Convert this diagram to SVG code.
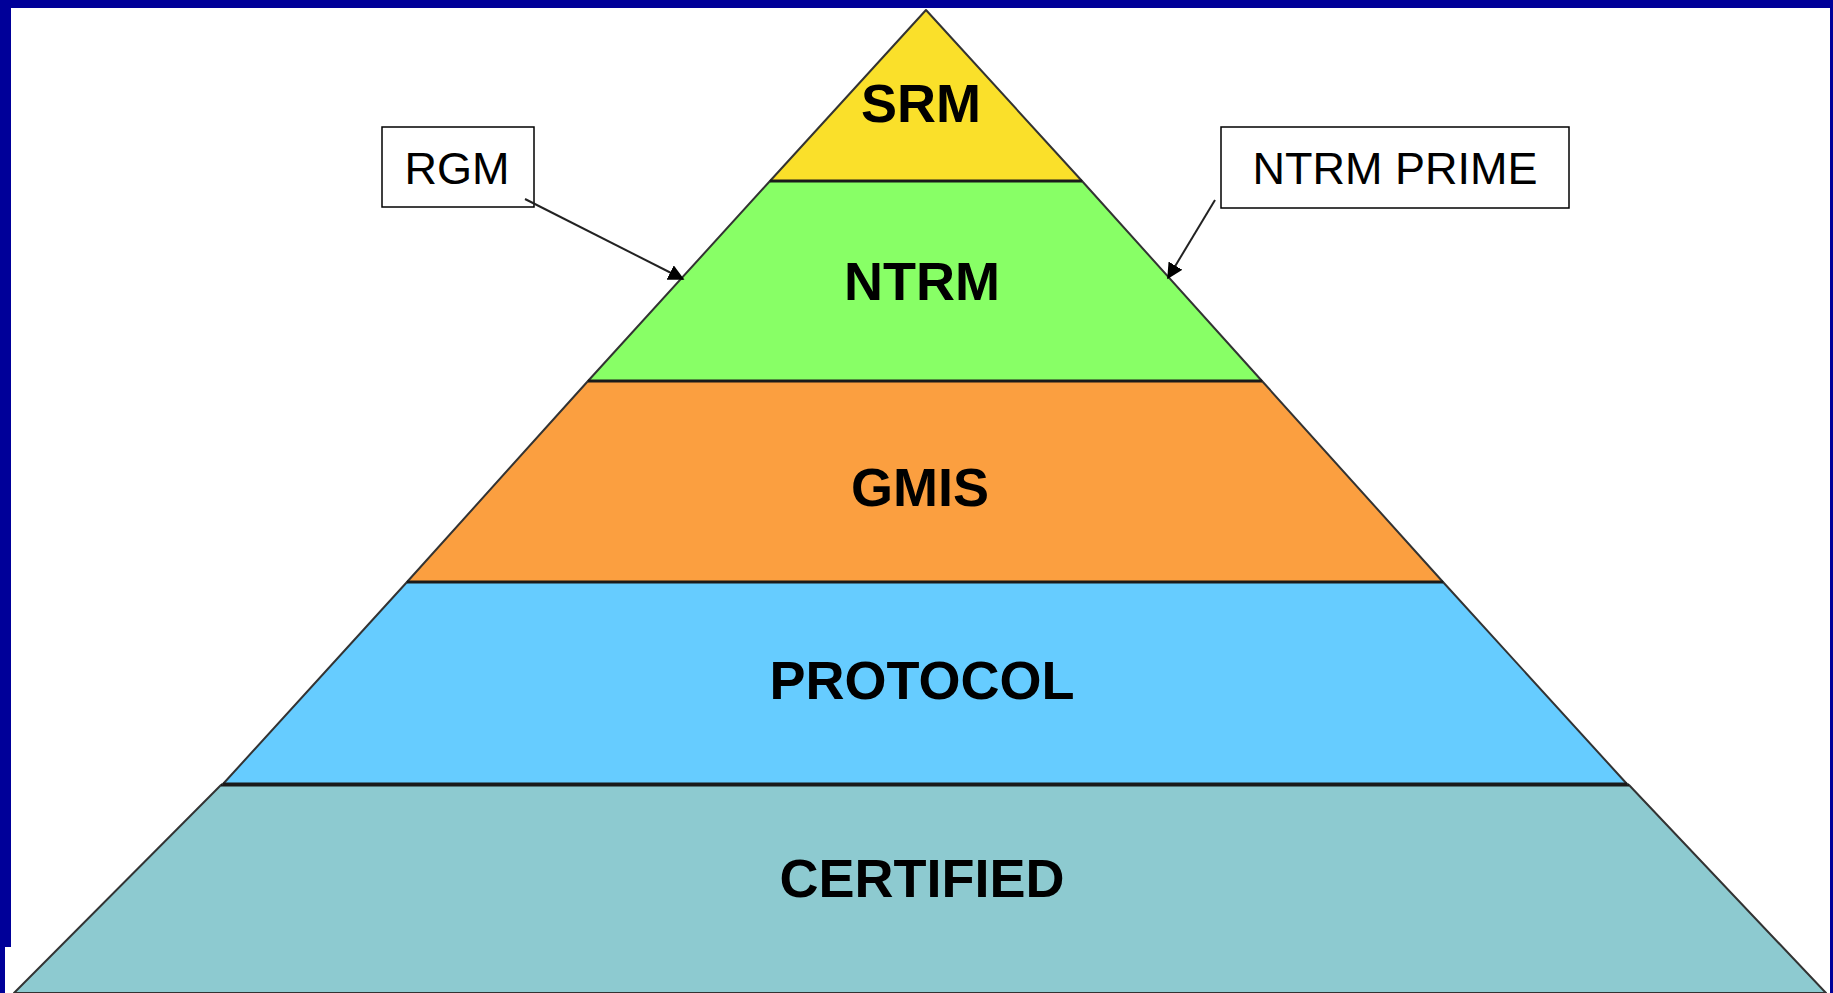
<svg xmlns="http://www.w3.org/2000/svg" width="1833" height="993" viewBox="0 0 1833 993">
  <style>
    .band { stroke: #333333; stroke-width: 2; stroke-linejoin: round; }
    .base { stroke: #1a1a1a; stroke-width: 3; }
    .tier { font-family: "Liberation Sans", Arial, sans-serif; font-weight: bold; font-size: 54px; fill: #000000; text-anchor: middle; }
    .callout { fill: #ffffff; stroke: #000000; stroke-width: 1.5; }
    .callout-text { font-family: "Liberation Sans", Arial, sans-serif; font-size: 45px; fill: #000000; text-anchor: middle; }
    .leader { stroke: #222222; stroke-width: 2; fill: none; marker-end: url(#arrow); }
  </style>
  <defs>
    <marker id="arrow" viewBox="0 0 10 10" refX="9" refY="5" markerWidth="8" markerHeight="8" orient="auto" markerUnits="strokeWidth">
      <path d="M0,0 L10,5 L0,10 z" fill="#000000"/>
    </marker>
  </defs>

  <!-- page background and frame -->
  <rect x="0" y="0" width="1833" height="993" fill="#ffffff"/>
  <rect x="0" y="0" width="1833" height="8" fill="#000099"/>
  <rect x="0" y="0" width="11" height="947" fill="#000099"/>
  <rect x="0" y="947" width="5" height="46" fill="#000099"/>
  <rect x="1830" y="0" width="3" height="993" fill="#000099"/>

  <!-- pyramid tiers, bottom to top -->
  <g id="certified">
    <polygon class="band" points="221,785 1629,785 1826,993 14,993" fill="#8dcad0"/>
    <line class="base" x1="221" y1="785" x2="1629" y2="785"/>
    <text class="tier" x="922" y="897">CERTIFIED</text>
  </g>
  <g id="protocol">
    <polygon class="band" points="407,582 1443,582 1627,784 223,784" fill="#66ccff"/>
    <line class="base" x1="223" y1="784" x2="1627" y2="784"/>
    <text class="tier" x="922" y="699">PROTOCOL</text>
  </g>
  <g id="gmis">
    <polygon class="band" points="588,381 1262,381 1443,582 407,582" fill="#fb9f40"/>
    <line class="base" x1="407" y1="582" x2="1443" y2="582"/>
    <text class="tier" x="920" y="506">GMIS</text>
  </g>
  <g id="ntrm">
    <polygon class="band" points="770,181 1082,181 1262,381 588,381" fill="#88ff66"/>
    <line class="base" x1="588" y1="381" x2="1262" y2="381"/>
    <text class="tier" x="922" y="300">NTRM</text>
  </g>
  <g id="srm">
    <polygon class="band" points="926,10 1082,181 770,181" fill="#fae02a"/>
    <line class="base" x1="770" y1="181" x2="1082" y2="181"/>
    <text class="tier" x="921" y="122">SRM</text>
  </g>

  <!-- callout boxes -->
  <g id="rgm">
    <rect class="callout" x="382" y="127" width="152" height="80"/>
    <text class="callout-text" x="457" y="184">RGM</text>
  </g>
  <g id="ntrm-prime">
    <rect class="callout" x="1221" y="127" width="348" height="81"/>
    <text class="callout-text" x="1395" y="184" font-size="46">NTRM PRIME</text>
  </g>

  <!-- leader arrows -->
  <g id="connectors">
    <line class="leader" x1="525" y1="199" x2="683" y2="279"/>
    <line class="leader" x1="1215" y1="200" x2="1168" y2="278"/>
  </g>
</svg>
